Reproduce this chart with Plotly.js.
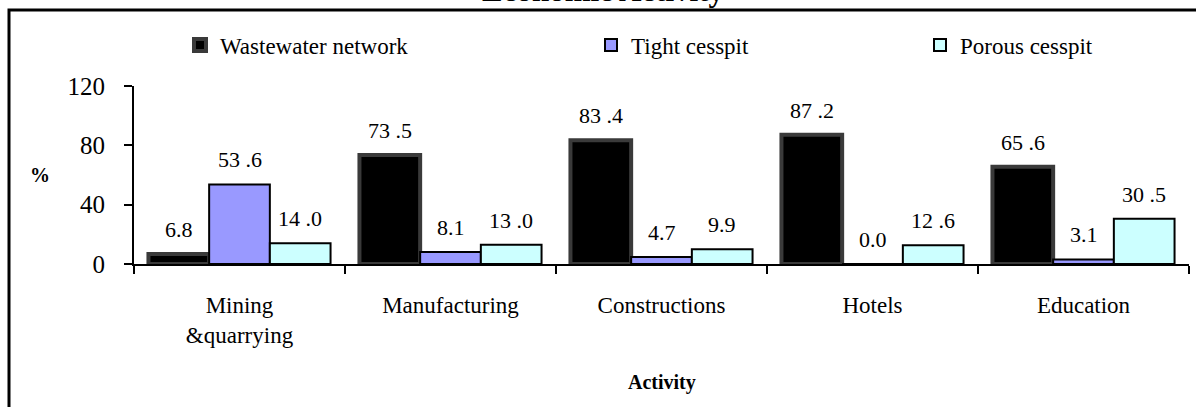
<!DOCTYPE html>
<html>
<head>
<meta charset="utf-8">
<script src="https://cdn.plot.ly/plotly-3.0.1.min.js"></script>
<style>
  html, body { margin: 0; padding: 0; background: #ffffff; }
  #chart { width: 1196px; height: 407px; }
</style>
</head>
<body>
<div id="chart"></div>
<script>
// Sewage disposal by economic activity (percent of establishments)
const categories = ['Mining<br>&amp;quarrying', 'Manufacturing', 'Constructions', 'Hotels', 'Education'];
const seriesNames = ['Wastewater network', 'Tight cesspit', 'Porous cesspit'];
const wastewater = [6.8, 73.5, 83.4, 87.2, 65.6];
const tightCesspit = [53.6, 8.1, 4.7, 0.0, 3.1];
const porousCesspit = [14.0, 13.0, 9.9, 12.6, 30.5];
const yTicks = [0, 40, 80, 120];

const FONT = 'Liberation Serif';
const W = 1196, H = 407;
const M = { l: 134, r: 7, t: 86, b: 143 };
const plotW = W - M.l - M.r;
const plotH = H - M.t - M.b;
const BARGAP = 0.137;

// pixel -> paper helpers for items placed outside the plotting area
const px2x = px => (px - M.l) / plotW;
const px2y = py => (H - M.b - py) / plotH;

// value labels show one decimal; two-digit values carry a gap before the point
const fmt = v => {
  const s = v.toFixed(1);
  return v >= 10 ? s.replace('.', ' .') : s;
};

const seriesValues = [wastewater, tightCesspit, porousCesspit];
const fills = ['#000000', '#9999ff', '#ccffff'];
const outlines = ['#3a3a3a', '#000000', '#000000'];
const outlineWidths = [4, 2, 2];
const legendIds = ['legend', 'legend2', 'legend3'];

const traces = seriesValues.map((vals, i) => ({
  type: 'bar',
  name: seriesNames[i],
  x: categories,
  y: vals,
  legend: legendIds[i],
  marker: { color: fills[i], line: { color: outlines[i], width: outlineWidths[i] } },
  hoverinfo: 'x+y+name'
}));

// value labels centred over each bar of a group
const barW = plotW / categories.length * (1 - BARGAP) / seriesValues.length;
const annotations = [];
seriesValues.forEach((vals, i) => {
  vals.forEach((v, j) => {
    annotations.push({
      x: categories[j], y: v, xref: 'x', yref: 'y',
      xshift: (i - 1) * barW, yshift: 10,
      text: fmt(v), showarrow: false,
      xanchor: 'center', yanchor: 'bottom',
      font: { family: FONT, size: 22, color: '#000' }
    });
  });
});

annotations.push({
  text: 'Economic Activity', xref: 'paper', yref: 'paper',
  x: px2x(W / 2 + 5), y: px2y(5), xanchor: 'center', yanchor: 'bottom',
  yshift: -5,
  showarrow: false, font: { family: FONT, size: 31, color: '#000', weight: 'bold' }
});
annotations.push({
  text: '%', xref: 'paper', yref: 'paper',
  x: px2x(40), y: 0.5, xanchor: 'center', yanchor: 'middle',
  showarrow: false, font: { family: FONT, size: 20, color: '#000', weight: 'bold' }
});
annotations.push({
  text: 'Activity', xref: 'paper', yref: 'paper',
  x: 0.5, y: px2y(382), xanchor: 'center', yanchor: 'middle',
  showarrow: false, font: { family: FONT, size: 20, color: '#000', weight: 'bold' }
});

const legendBase = {
  orientation: 'h', yanchor: 'middle', xanchor: 'left',
  y: px2y(45), bgcolor: 'rgba(0,0,0,0)', itemwidth: 30,
  font: { family: FONT, size: 23, color: '#000' }
};

const layout = {
  width: W, height: H,
  margin: M,
  paper_bgcolor: '#ffffff',
  plot_bgcolor: '#ffffff',
  font: { family: FONT, color: '#000' },
  barmode: 'group',
  bargap: BARGAP,
  bargroupgap: 0,
  showlegend: true,
  legend: Object.assign({}, legendBase, { x: px2x(180) }),
  legend2: Object.assign({}, legendBase, { x: px2x(591) }),
  legend3: Object.assign({}, legendBase, { x: px2x(920) }),
  xaxis: {
    type: 'category',
    showline: true, linecolor: '#000', linewidth: 2,
    ticks: 'outside', tickson: 'boundaries', ticklen: 8, tickwidth: 2, tickcolor: '#000',
    ticklabelstandoff: 19,
    tickfont: { family: FONT, size: 23, color: '#000' },
    showgrid: false, zeroline: false, fixedrange: true
  },
  yaxis: {
    range: [0, 120], tickvals: yTicks,
    showline: true, linecolor: '#000', linewidth: 2,
    ticks: 'outside', ticklen: 8, tickwidth: 2, tickcolor: '#000',
    ticklabelstandoff: 14,
    tickfont: { family: FONT, size: 25, color: '#000' },
    showgrid: false, zeroline: false, fixedrange: true
  },
  shapes: [{
    type: 'rect', xref: 'paper', yref: 'paper',
    x0: px2x(9), x1: px2x(W + 20), y0: px2y(H + 20), y1: px2y(10),
    line: { color: '#000', width: 3 }, fillcolor: 'rgba(0,0,0,0)', layer: 'below'
  }],
  annotations: annotations
};

Plotly.newPlot('chart', traces, layout, { displayModeBar: false, staticPlot: true });
</script>
</body>
</html>
